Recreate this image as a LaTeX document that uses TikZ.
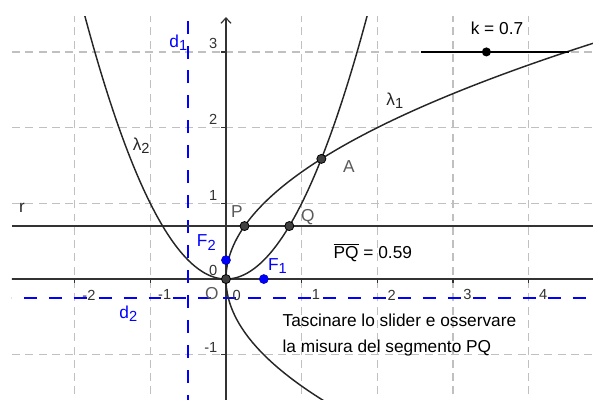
\documentclass[tikz,border=0pt]{standalone}
\usepackage{fontspec}
\setmainfont{Liberation Sans}
\usetikzlibrary{arrows.meta}
\definecolor{grigioGriglia}{RGB}{192,192,192}
\definecolor{grigioPunto}{RGB}{64,64,64}
\definecolor{grigioEtich}{RGB}{90,90,90}
\definecolor{bluGG}{RGB}{0,0,255}
\newcommand{\pedice}[1]{\raisebox{-2.6pt}{\fontsize{11}{11}\selectfont #1}}

\begin{document}
\begin{tikzpicture}[x=2cm,y=2cm,
        griglia/.style={grigioGriglia, line width=1pt, dash pattern=on 6pt off 4pt},
        asse/.style={black!80, line width=0.9pt},
        curva/.style={black!85, line width=1.1pt},
        direttrice/.style={bluGG, line width=1pt, dash pattern=on 9.75pt off 9pt},
        punto/.style={circle, fill=grigioPunto, draw=black, line width=0.6pt, inner sep=0pt, minimum size=6.8pt},
        fuoco/.style={circle, fill=bluGG, draw=bluGG!70!black, line width=0.4pt, inner sep=0pt, minimum size=6.8pt},
        etich/.style={font=\fontsize{13}{15}\selectfont, inner sep=0pt},
        tacca/.style={font=\fontsize{11}{13}\selectfont, text=black!80, inner sep=0pt}]
        \useasboundingbox (-2.985,-1.585) rectangle (4.848,3.686);

        \begin{scope}
        \clip (-2.827,-1.585) rectangle (4.848,3.474);
        % Griglia
        \foreach \x in {-2,-1,1,2,3,4}
            \draw[griglia] (\x,-1.7) -- (\x,3.6);
        \foreach \y in {-1,1,2,3}
            \draw[griglia] (-3,\y) -- (5,\y);

        % Assi
        \coordinate (xW) at (-3,0);
        \coordinate (xE) at (5,0);
        \coordinate (yS) at (0,-1.7);
        \coordinate (yN) at (0,3.46);
        \draw[asse] (xW) -- (xE);
        \draw[asse, -{Straight Barb[length=4pt,width=7.5pt]}] (yS) -- (yN);
        \foreach \x in {-2,-1,1,2,3,4}
            \draw[asse] (\x,0) -- (\x,-0.05);
        \foreach \y in {-1,1,2,3}
            \draw[asse] (0,\y) -- (-0.06,\y);

        % Direttrici
        \coordinate (d1S) at (-0.5,-1.7);
        \coordinate (d1N) at (-0.5,3.6);
        \coordinate (d2W) at (-3,-0.25);
        \coordinate (d2E) at (5,-0.25);
        \draw[direttrice] (d1S) -- (d1N);
        \draw[direttrice] (d2W) -- (d2E);

        % Retta r: y = k
        \coordinate (rW) at (-2.827,0.7);
        \coordinate (rE) at (5,0.7);
        \draw[asse] (rW) -- (rE);

        % Parabole
        \draw[curva] plot[domain=-1.65:3.15, samples=120] ({\x*\x/2},\x);
        \draw[curva] plot[domain=-1.95:1.95, samples=120] (\x,{\x*\x});
        \end{scope}

        % Etichette degli assi
        \foreach \x in {-2,-1,1,2,3,4}
            \node[tacca] at (\x+0.19,-0.21) {\x};
        \foreach \y in {1,2,3}
            \node[tacca] at (-0.17,\y+0.11) {\y};
        \node[tacca] at (-0.2,-0.9) {-1};
        \node[tacca] at (-0.17,0.12) {0};
        \node[tacca] at (0.14,-0.22) {0};

        % Slider
        \coordinate (sW) at (2.572,3);
        \coordinate (sE) at (4.535,3);
        \draw[black, line width=1.1pt] (sW) -- (sE);
        \node[circle, fill=black, inner sep=0pt, minimum size=6.8pt] (kpt) at (3.44,3) {};
        \node[etich] (klab) at (3.58,3.315) {k = 0.7};

        % Punti
        \node[punto] (O) at (0,0) {};
        \node[punto] (P) at (0.245,0.7) {};
        \node[punto] (Q) at (0.8367,0.7) {};
        \node[punto] (A) at (1.26,1.587) {};
        \node[fuoco] (F1) at (0.5,0) {};
        \node[fuoco] (F2) at (0,0.25) {};

        % Etichette
        \node[etich, text=grigioEtich] (Olab) at (-0.185,-0.185) {O};
        \node[etich, text=grigioEtich] (Plab) at (0.145,0.885) {P};
        \node[etich, text=grigioEtich] (Qlab) at (1.08,0.82) {Q};
        \node[etich, text=grigioEtich] (Alab) at (1.625,1.48) {A};
        \node[etich, text=bluGG] (F1lab) at (0.68,0.17) {F\pedice{1}};
        \node[etich, text=bluGG] (F2lab) at (-0.26,0.48) {F\pedice{2}};
        \node[etich, text=bluGG] (d1lab) at (-0.63,3.12) {d\pedice{1}};
        \node[etich, text=bluGG] (d2lab) at (-1.29,-0.46) {d\pedice{2}};
        \node[etich, text=black!85] (l1lab) at (2.23,2.355) {λ\pedice{1}};
        \node[etich, text=black!85] (l2lab) at (-1.12,1.76) {λ\pedice{2}};
        \node[etich, text=black!85] (rlab) at (-2.695,0.94) {r};
        \node[etich] (PQlab) at (1.94,0.345) {$\overline{\mbox{PQ}}$ = 0.59};
        \node[etich, anchor=west, align=left, font=\fontsize{13}{19.5}\selectfont] (testo) at (0.745,-0.74)
            {Tascinare lo slider e osservare\\la misura del segmento PQ};
\end{tikzpicture}
\end{document}
